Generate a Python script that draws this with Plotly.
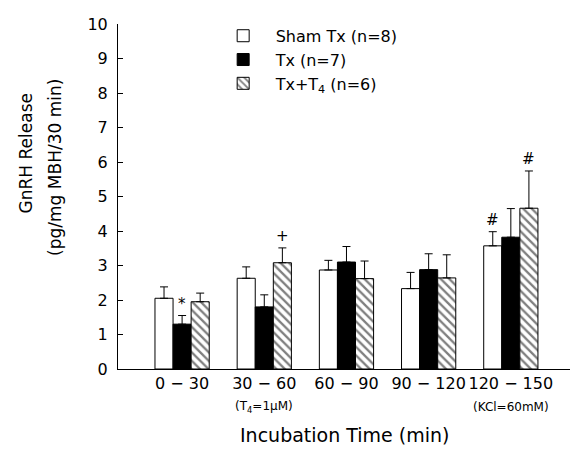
import plotly.graph_objects as go

categories = ["0 − 30", "30 − 60", "60 − 90", "90 − 120", "120 − 150"]
series_names = ["Sham Tx (n=8)", "Tx (n=7)", "Tx+T<sub>4</sub> (n=6)"]
sham_vals = [2.05, 2.63, 2.87, 2.33, 3.57]
sham_err = [0.33, 0.33, 0.28, 0.47, 0.41]
tx_vals = [1.30, 1.80, 3.10, 2.88, 3.82]
tx_err = [0.25, 0.35, 0.45, 0.46, 0.83]
t4_vals = [1.95, 3.08, 2.62, 2.64, 4.66]
t4_err = [0.25, 0.43, 0.51, 0.67, 1.08]
sub_labels = {1: "(T<sub>4</sub>=1μM)", 4: "(KCl=60mM)"}
# significance marks: (series index, category index, symbol)
marks = [(1, 0, "*"), (2, 1, "+"), (0, 4, "#"), (2, 4, "#")]

FONT = "DejaVu Sans"
W, H = 571, 445  # page body adds an 8px margin
fig = go.Figure()
vals = [sham_vals, tx_vals, t4_vals]
errs = [sham_err, tx_err, t4_err]
fills = [dict(color="white"), dict(color="black"),
         dict(color="white", pattern=dict(shape="\\", fgcolor="black", bgcolor="white", size=6, solidity=0.38))]
for name, v, e, f in zip(series_names, vals, errs, fills):
    fig.add_trace(go.Bar(
        x=categories, y=v, name=name,
        marker=dict(color=f["color"], line=dict(color="black", width=1), pattern=f.get("pattern")),
        error_y=dict(type="data", array=e, arrayminus=[0] * len(e), symmetric=False,
                     color="black", thickness=1, width=4),
    ))

bargap = 0.34
bw = (1 - bargap) / 3
annotations = []
for s, c, sym in marks:
    annotations.append(dict(x=c + (s - 1) * bw, y=vals[s][c] + errs[s][c], xref="x", yref="y",
                            text=sym, showarrow=False, yanchor="bottom", yshift=1,
                            font=dict(family=FONT, size=15, color="black")))
for c, t in sub_labels.items():
    annotations.append(dict(x=c, y=-0.11, xref="x", yref="paper", text=t, showarrow=False,
                            yanchor="middle", font=dict(family=FONT, size=12, color="black")))
annotations.append(dict(x=0.5, y=-0.19, xref="paper", yref="paper", text="Incubation Time (min)",
                        showarrow=False, xanchor="center", yanchor="middle",
                        font=dict(family=FONT, size=19, color="black")))
annotations.append(dict(x=-0.2035, y=0.625, xref="paper", yref="paper", text="GnRH Release",
                        textangle=-90, showarrow=False, xanchor="center", yanchor="middle",
                        font=dict(family=FONT, size=17, color="black")))
annotations.append(dict(x=-0.14, y=0.585, xref="paper", yref="paper", text="(pg/mg MBH/30 min)",
                        textangle=-90, showarrow=False, xanchor="center", yanchor="middle",
                        font=dict(family=FONT, size=17, color="black")))

fig.update_layout(
    width=W, height=H,
    margin=dict(l=110, r=W - 562, t=7, b=H - 361),
    paper_bgcolor="white", plot_bgcolor="white",
    barmode="group", bargap=bargap, bargroupgap=0,
    font=dict(family=FONT, size=15, color="black"),
    showlegend=True,
    legend=dict(x=0.205, y=1.015, xanchor="left", yanchor="top", bgcolor="rgba(0,0,0,0)",
                font=dict(family=FONT, size=16), itemwidth=55, tracegroupgap=4),
    annotations=annotations,
)
fig.update_xaxes(range=[-0.78, 4.72], showline=True, linecolor="black", linewidth=1,
                 ticks="", showgrid=False, zeroline=False, tickfont=dict(family=FONT, size=16))
fig.update_yaxes(range=[0, 10], dtick=1, showline=True, linecolor="black", linewidth=1,
                 ticks="inside", ticklen=5, tickcolor="black", showgrid=False, zeroline=False,
                 tickfont=dict(family=FONT, size=16), ticklabelstandoff=6)

fig.write_html("out.html")
